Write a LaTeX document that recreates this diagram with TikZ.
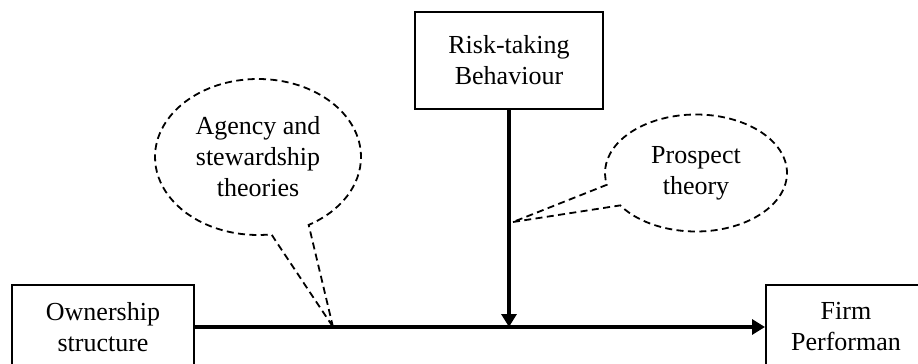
\documentclass[tikz,border=0pt]{standalone}
\usepackage{fontspec}
\setmainfont{Liberation Serif}
\usetikzlibrary{arrows.meta, shapes.callouts}

\begin{document}
\begin{tikzpicture}
      [x=0.5pt, y=-0.5pt,
      font=\fontsize{13}{15.5}\selectfont,
      box/.style={rectangle, draw=black, line width=1pt, align=center, inner sep=0pt},
      bubble/.style={ellipse callout, draw=black, line width=0.9pt,
        dash pattern=on 3.5pt off 2.2pt, align=center, inner sep=0pt,
        callout pointer arc=22},
      arr/.style={-{Triangle[length=6.5pt,width=7.5pt]}, line width=1.6pt}]
      \useasboundingbox (0,0) rectangle (918,364);
      \clip (0,0) rectangle (918,364);
      % boxes
      \node (perf) at (846, 327) [box, minimum width=80pt, minimum height=42pt] {Firm\\Performan};
      \node (own) at (103, 327) [box, minimum width=91pt, minimum height=42pt] {Ownership\\structure}
      edge[arr] (perf);
      \node (risk) at (509, 60.5) [box, minimum width=94pt, minimum height=48.5pt] {Risk-taking\\Behaviour};
      \coordinate (meet) at (risk.south |- own.east);
      \draw[arr] (risk) -- (meet);
      % theory bubbles
      \coordinate (agencytip) at (333, 327);
      \coordinate (prospecttip) at (513, 222);
      \node (agency) at (258, 157) [bubble, minimum width=103pt, minimum height=78pt,
        callout absolute pointer={(agencytip)}] {Agency and\\stewardship\\theories};
      \node (prospect) at (696, 173) [bubble, minimum width=91pt, minimum height=58.5pt,
        callout absolute pointer={(prospecttip)}] {Prospect\\theory};
\end{tikzpicture}
\end{document}
